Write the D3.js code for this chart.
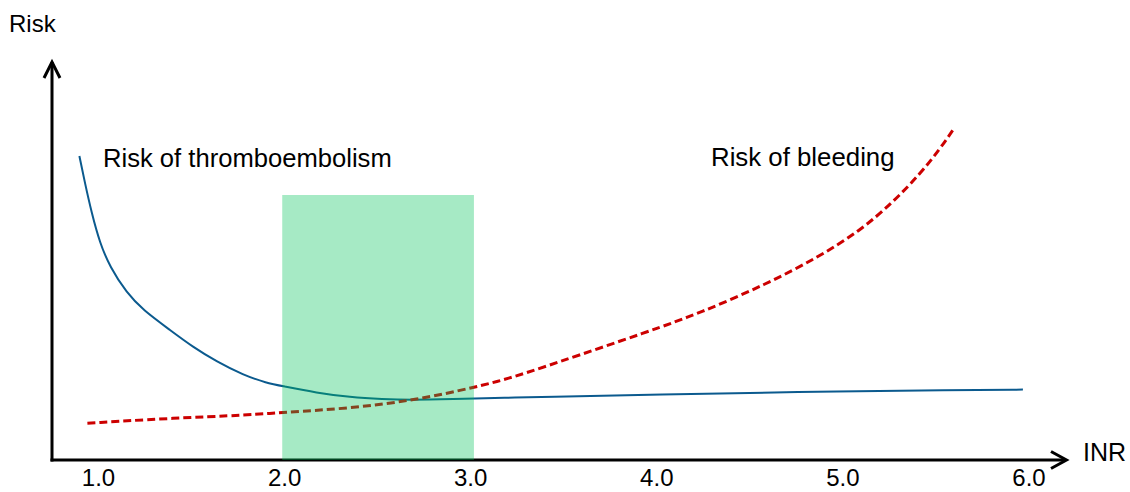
<!DOCTYPE html>
<html>
<head>
<meta charset="utf-8">
<script src="https://cdn.jsdelivr.net/npm/d3@7"></script>
<style>
  html, body { margin: 0; padding: 0; background: #fff; }
  svg { display: block; font-family: "Liberation Sans", Arial, sans-serif; }
</style>
</head>
<body>
<svg id="chart" width="1130" height="492"></svg>
<script>
// ---- data (INR vs. relative risk) ----
const xTicks = [1, 2, 3, 4, 5, 6];
const thromboINR  = [0.90, 0.93, 0.966, 1.01, 1.064, 1.154, 1.242, 1.387, 1.51, 1.638, 1.78, 1.907, 1.99, 2.175, 2.354, 2.53, 2.68, 2.89, 3.21, 3.375, 4.02, 4.73, 5.63, 5.97];
const thromboRisk = [76, 69.2, 61.75, 54.25, 48.3, 41.75, 37.5, 32.5, 28.25, 24.6, 21.25, 19.25, 18.5, 16.8, 15.7, 15.2, 15.0, 15.2, 15.6, 15.75, 16.4, 17.0, 17.5, 17.6];
const bleedINR  = [0.943, 1.37, 1.817, 1.99, 2.354, 2.71, 3.026, 3.196, 3.43, 3.966, 4.235, 4.593, 4.862, 5.094, 5.273, 5.417, 5.524, 5.605];
const bleedRisk = [9.2, 10.4, 11.25, 11.9, 12.9, 15.0, 18.2, 20.2, 23.75, 32.25, 36.75, 44, 50.5, 57.25, 64.5, 71.5, 77.75, 83.25];
const targetBand = [1.99, 3.02];   // therapeutic INR range
const bandTop = 66.25;
const labels = { y: "Risk", x: "INR", thrombo: "Risk of thromboembolism", bleed: "Risk of bleeding" };

const svg = d3.select("#chart");
const x = d3.scaleLinear().domain([1, 6]).range([98, 1028.5]);
const y = d3.scaleLinear().domain([0, 100]).range([460, 60]);

const x0 = 52, yAxis = y(0);

// axes with arrow heads
const axis = svg.append("g").attr("stroke", "#000").attr("stroke-width", 3).attr("fill", "none")
  .attr("stroke-linecap", "butt");
axis.append("line").attr("x1", x0).attr("y1", yAxis + 1.5).attr("x2", x0).attr("y2", 62);
axis.append("polyline").attr("points", `${x0-8},78 ${x0},62 ${x0+8},78`).attr("stroke-linejoin", "miter");
axis.append("line").attr("x1", x0 - 1.5).attr("y1", yAxis).attr("x2", 1066).attr("y2", yAxis);
axis.append("polyline").attr("points", `1051,451.5 1066.5,${yAxis} 1051,468.5`);

// tick labels via d3 axis
const xa = d3.axisBottom(x).tickValues(xTicks).tickFormat(d3.format(".1f")).tickSize(0);
const gx = svg.append("g").attr("transform", `translate(0,${yAxis})`).call(xa);
gx.select(".domain").remove();
gx.selectAll("text").attr("y", 26).attr("dy", null)
  .attr("font-size", 24).attr("fill", "#000")
  .attr("font-family", "'Liberation Sans', Arial, sans-serif");

// curves
const line = d3.line().curve(d3.curveBasis);
svg.append("path")
  .attr("d", line(thromboINR.map((v, i) => [x(v), y(thromboRisk[i])])))
  .attr("fill", "none").attr("stroke", "#0b5a8e").attr("stroke-width", 2);
svg.append("path")
  .attr("d", line(bleedINR.map((v, i) => [x(v), y(bleedRisk[i])])))
  .attr("fill", "none").attr("stroke", "#cc0000").attr("stroke-width", 3)
  .attr("stroke-dasharray", "8,4");

// therapeutic band (translucent, on top)
svg.append("rect")
  .attr("x", x(targetBand[0])).attr("width", x(targetBand[1]) - x(targetBand[0]))
  .attr("y", y(bandTop)).attr("height", yAxis - y(bandTop))
  .attr("fill", "rgb(0,195,90)").attr("fill-opacity", 0.35);

// text labels
const t = svg.append("g").attr("fill", "#000");
t.append("text").attr("x", 9).attr("y", 32).attr("font-size", 24).text(labels.y);
t.append("text").attr("x", 1083).attr("y", 461).attr("font-size", 25).text(labels.x);
t.append("text").attr("x", 103).attr("y", 167).attr("font-size", 25.6).text(labels.thrombo);
t.append("text").attr("x", 711).attr("y", 166).attr("font-size", 25.8).text(labels.bleed);
</script>
</body>
</html>
